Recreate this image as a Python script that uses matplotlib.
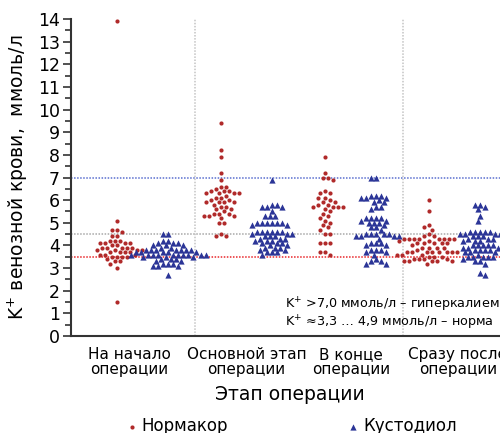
import numpy as np
import matplotlib
matplotlib.use('Agg')
import matplotlib.pyplot as plt

plt.rcParams['font.family'] = ['DejaVu Sans']

stages = ['На начало\nоперации', 'Основной этап\nоперации', 'В конце\nоперации', 'Сразу после\nоперации']

# K+ values, mmol/l
normakor_start = [13.9, 5.1, 4.7, 4.7, 4.6, 4.4, 4.4, 4.2, 4.2, 4.2, 4.1, 4.1, 4.1, 4.1, 4.0, 4.0,
                  3.9, 3.9, 3.9, 3.9, 3.9, 3.8, 3.8, 3.8, 3.8, 3.7, 3.7, 3.7, 3.7, 3.6, 3.6, 3.6,
                  3.5, 3.5, 3.5, 3.5, 3.4, 3.3, 3.3, 3.2, 3.0, 1.5]
custodiol_start = [4.5, 4.5, 4.2, 4.2, 4.1, 4.1, 4.1, 4.0, 4.0, 4.0, 3.9, 3.9, 3.8, 3.8, 3.8, 3.8,
                   3.8, 3.8, 3.8, 3.7, 3.7, 3.7, 3.7, 3.7, 3.6, 3.6, 3.6, 3.6, 3.6, 3.6, 3.6, 3.6,
                   3.6, 3.6, 3.5, 3.5, 3.5, 3.4, 3.4, 3.4, 3.3, 3.3, 3.2, 3.2, 3.2, 3.1, 3.1, 3.1, 2.7]
normakor_main = [9.4, 8.2, 7.9, 7.2, 6.9, 6.6, 6.6, 6.5, 6.4, 6.4, 6.4, 6.3, 6.3, 6.3, 6.3, 6.2,
                 6.1, 6.1, 6.0, 6.0, 5.9, 5.9, 5.9, 5.9, 5.8, 5.7, 5.7, 5.6, 5.6, 5.5, 5.4, 5.4,
                 5.4, 5.3, 5.3, 5.3, 5.2, 5.0, 5.0, 4.5, 4.4, 4.4]
custodiol_main = [6.9, 5.8, 5.8, 5.7, 5.7, 5.7, 5.5, 5.3, 5.3, 5.3, 5.0, 5.0, 5.0, 5.0, 5.0, 5.0,
                  4.9, 4.9, 4.6, 4.6, 4.6, 4.6, 4.6, 4.6, 4.5, 4.5, 4.5, 4.4, 4.4, 4.4, 4.3, 4.3,
                  4.3, 4.2, 4.2, 4.2, 4.1, 4.1, 4.1, 4.0, 4.0, 3.9, 3.9, 3.9, 3.8, 3.8, 3.7, 3.7,
                  3.7, 3.6]
normakor_end = [7.9, 7.2, 7.0, 7.0, 6.9, 6.4, 6.3, 6.3, 6.1, 6.1, 6.0, 5.9, 5.9, 5.8, 5.8, 5.7,
                5.7, 5.7, 5.7, 5.6, 5.5, 5.4, 5.3, 5.2, 5.1, 5.0, 4.9, 4.8, 4.7, 4.5, 4.5, 4.1,
                4.1, 4.1, 3.7, 3.7, 3.6]
custodiol_end = [7.0, 7.0, 6.2, 6.2, 6.2, 6.1, 6.1, 6.1, 6.0, 5.9, 5.9, 5.7, 5.7, 5.6, 5.2, 5.2,
                 5.2, 5.2, 5.1, 5.1, 5.0, 5.0, 5.0, 4.9, 4.8, 4.8, 4.7, 4.5, 4.5, 4.5, 4.5, 4.5,
                 4.4, 4.4, 4.4, 4.4, 4.3, 4.1, 4.1, 4.1, 4.0, 4.0, 3.8, 3.8, 3.8, 3.7, 3.7, 3.6,
                 3.4, 3.3, 3.3, 3.2, 3.2]
normakor_after = [6.0, 5.5, 4.9, 4.8, 4.7, 4.5, 4.4, 4.4, 4.3, 4.3, 4.3, 4.3, 4.3, 4.3, 4.3, 4.3,
                  4.2, 4.2, 4.1, 4.1, 4.1, 4.1, 4.1, 4.0, 3.9, 3.9, 3.9, 3.9, 3.8, 3.7, 3.7, 3.7,
                  3.7, 3.7, 3.7, 3.7, 3.7, 3.6, 3.6, 3.6, 3.5, 3.5, 3.5, 3.4, 3.4, 3.4, 3.4, 3.3,
                  3.3, 3.3, 3.3, 3.3, 3.2]
custodiol_after = [5.8, 5.8, 5.7, 5.6, 5.3, 5.1, 4.6, 4.6, 4.6, 4.6, 4.6, 4.5, 4.5, 4.5, 4.5, 4.4,
                   4.4, 4.4, 4.3, 4.3, 4.3, 4.2, 4.2, 4.2, 4.0, 4.0, 4.0, 4.0, 4.0, 3.9, 3.9, 3.9,
                   3.8, 3.8, 3.8, 3.8, 3.7, 3.7, 3.7, 3.6, 3.5, 3.5, 3.5, 3.5, 3.5, 3.4, 3.3, 3.3,
                   3.2, 2.8, 2.7]

normakor = [normakor_start, normakor_main, normakor_end, normakor_after]
custodiol = [custodiol_start, custodiol_main, custodiol_end, custodiol_after]

red = '#b02a2a'
blue = '#2b3597'

fig = plt.figure(figsize=(5.0, 4.33), dpi=100)
ax = fig.add_axes([0.142, 0.224, 0.978, 0.732])
ax.set_xlim(-0.6875, 4.01)
ax.set_ylim(0, 14)


def swarm(values, center, w=5.0, h=5.2):
    # simple beeswarm, computed in pixels
    p0 = ax.transData.transform((0, 0))
    p1 = ax.transData.transform((1, 1))
    sx, sy = p1[0] - p0[0], p1[1] - p0[1]
    vals = np.array(values)
    xs = np.zeros(len(vals))
    placed = []
    cands = [0.0]
    for k in range(1, 100):
        cands += [0.5 * k, -0.5 * k]
    for n, i in enumerate(np.argsort(-vals, kind='stable')):
        y = vals[i] * sy
        order = cands if n % 2 == 0 else [-c for c in cands]
        for c in order:
            if all(((c - px) / w) ** 2 + ((y - py) / h) ** 2 >= 1 for px, py in placed):
                break
        placed.append((c, y))
        xs[i] = center + c / sx
    return xs


ax.axhline(7.0, color='#5a6fd0', ls=(0, (1, 1)), lw=1.1, zorder=1)
ax.axhline(4.5, color='#a8a8a8', ls=(0, (1, 1)), lw=1.1, zorder=1)
ax.axhline(3.5, color='#e8262a', ls=(0, (1, 1)), lw=1.1, zorder=1)
for xv in [0.5, 2.5]:
    ax.axvline(xv, color='#c4c4c4', ls=(0, (1, 1)), lw=1.1, zorder=1)

for i in range(len(stages)):
    ax.scatter(swarm(normakor[i], i - 0.245), normakor[i], s=9, marker='o',
               color=red, linewidths=0, zorder=3, clip_on=False)
    ax.scatter(swarm(custodiol[i], i + 0.245), custodiol[i], s=20, marker='^',
               color=blue, linewidths=0, zorder=3, clip_on=False)

ax.set_yticks(range(0, 15))
ax.set_yticks(np.arange(0.5, 14, 1), minor=True)
ax.set_xticks([-0.13, 1, 2, 3.03])
ax.set_xticklabels(stages, fontsize=11, linespacing=1.0)
ax.tick_params(axis='x', length=0, pad=8)
ax.tick_params(axis='y', which='major', length=6, width=1.2, labelsize=12.5, pad=2, color='#333333')
ax.tick_params(axis='y', which='minor', length=4, width=1.2, color='#333333')
for sp in ['top', 'right']:
    ax.spines[sp].set_visible(False)
for sp in ['left', 'bottom']:
    ax.spines[sp].set_linewidth(1.5)
    ax.spines[sp].set_color('#333333')

ax.set_ylabel('K$^{+}$ венозной крови,  ммоль/л', fontsize=13.5, labelpad=6)
fig.text(290 / 500, 1 - 395 / 433, 'Этап операции', fontsize=13.5, ha='center', va='center')

fig.text(285 / 500, 1 - 305 / 433, 'K$^{+}$ >7,0 ммоль/л – гиперкалиемия', fontsize=9.2,
         ha='left', va='center')
fig.text(285 / 500, 1 - 323 / 433, 'K$^{+}$ ≈3,3 … 4,9 ммоль/л – норма', fontsize=9.2,
         ha='left', va='center')

h1 = ax.scatter([], [], s=9, marker='o', color=red, linewidths=0)
h2 = ax.scatter([], [], s=20, marker='^', color=blue, linewidths=0)
fig.legend([h1, h2], ['Нормакор', 'Кустодиол'], loc='center',
           bbox_to_anchor=(291 / 500, 1 - 426 / 433), ncol=2, frameon=False,
           fontsize=12, handletextpad=0.2, columnspacing=7.1, handlelength=0.8)

plt.savefig('out.png', dpi=100)
